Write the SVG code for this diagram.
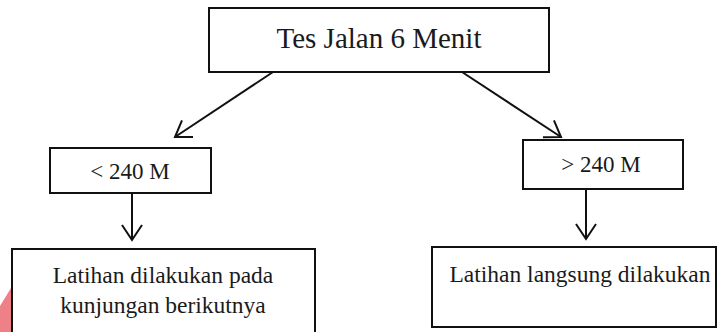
<svg xmlns="http://www.w3.org/2000/svg" width="724" height="332" viewBox="0 0 724 332">
  <style>
    .box { fill: #ffffff; stroke: #111111; stroke-width: 2; }
    .lbl { font-family: "Liberation Serif", "Times New Roman", serif; fill: #1a1a1a; text-anchor: middle; }
    .conn { fill: none; stroke: #111111; stroke-width: 2; marker-end: url(#arr); }
  </style>
  <defs>
    <marker id="arr" viewBox="-17 -12 19 24" refX="0" refY="0" markerWidth="19" markerHeight="24" markerUnits="userSpaceOnUse" orient="auto">
      <path d="M-15,-10 L0,0 L-15,10" fill="none" stroke="#111111" stroke-width="2"/>
    </marker>
  </defs>
  <rect width="724" height="332" fill="#ffffff"/>
  <polygon points="11,288 11,332 0,332 0,306" fill="#ee8088"/>

  <g id="connectors">
    <line class="conn" x1="273" y1="72" x2="175" y2="137"/>
    <line class="conn" x1="462" y1="72" x2="561" y2="137"/>
    <line class="conn" x1="132" y1="193" x2="132" y2="240"/>
    <line class="conn" x1="586" y1="189" x2="586" y2="239"/>
  </g>

  <g id="node-tes">
    <rect class="box" x="209" y="8" width="340" height="64"/>
    <text class="lbl" x="379" y="48" font-size="29">Tes Jalan 6 Menit</text>
  </g>

  <g id="node-kurang">
    <rect class="box" x="50" y="148" width="161" height="45"/>
    <text class="lbl" x="130" y="179" font-size="23">&lt; 240 M</text>
  </g>

  <g id="node-lebih">
    <rect class="box" x="523" y="140" width="160" height="49"/>
    <text class="lbl" x="601" y="172" font-size="23">&gt; 240 M</text>
  </g>

  <g id="node-kunjungan">
    <rect class="box" x="12" y="249" width="303" height="100"/>
    <text class="lbl" x="163" y="283" font-size="23.5">Latihan dilakukan pada</text>
    <text class="lbl" x="163" y="313" font-size="23.5">kunjungan berikutnya</text>
  </g>

  <g id="node-langsung">
    <rect class="box" x="432" y="247" width="284" height="80"/>
    <text class="lbl" x="580" y="282" font-size="23.5">Latihan langsung dilakukan</text>
  </g>
</svg>
